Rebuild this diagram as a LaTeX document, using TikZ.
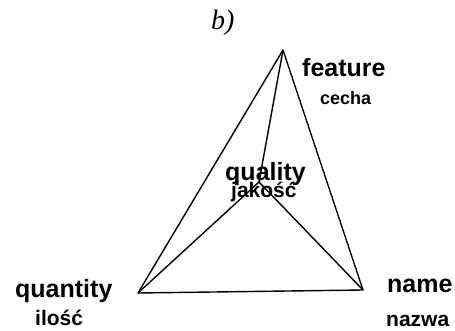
\documentclass[tikz,border=0pt]{standalone}
\usepackage{fontspec}
\setmainfont{Liberation Serif}
\setsansfont{Liberation Sans}
\begin{document}
\begin{tikzpicture}[x=1pt,y=-1pt,
  big/.style={inner sep=0pt,anchor=base west,font=\sffamily\bfseries\fontsize{25}{25}\selectfont},
  small/.style={inner sep=0pt,anchor=base west,font=\sffamily\bfseries\fontsize{21}{21}\selectfont},
  edge/.style={line width=1.4pt,line join=round}]
\useasboundingbox (0,0) rectangle (455,331);
\node[inner sep=0pt,anchor=base west,font=\itshape\fontsize{28}{28}\selectfont](T) at (211,30){b)};
\coordinate (F) at (283,50);
\coordinate (Q) at (138,293);
\coordinate (N) at (363,290);
\coordinate (J) at (259,182);
\draw[edge] (F) -- (Q) -- (N) -- cycle;
\draw[edge] (F) -- (J);
\draw[edge] (Q) -- (J) -- (N);
\node[big](FL) at (302,77){feature};
\node[small,font=\sffamily\bfseries\fontsize{18}{18}\selectfont](FS) at (320,105){cecha};
\node[big](JL) at (225,181){quality};
\node[small](JS) at (231,197){jakość};
\node[big](QL) at (15,297){quantity};
\node[small](QS) at (35,325){ilość};
\node[big](NL) at (387,292){name};
\node[small](NS) at (386,326){nazwa};
\end{tikzpicture}
\end{document}
